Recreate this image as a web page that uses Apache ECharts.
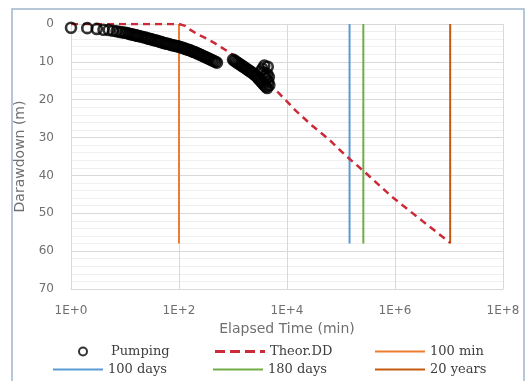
<!DOCTYPE html>
<html><head><meta charset="utf-8">
<script src="https://cdn.jsdelivr.net/npm/echarts@6/dist/echarts.min.js"></script>
<style>html,body{margin:0;padding:0;background:#fff}#c{width:526px;height:381px}</style>
</head><body><div id="c"></div>
<script>
// Pumping data: elapsed time (min) and drawdown (m)
const pumpT = [1,2,3,4,5,6,7,8,9,10,11,12,13,14,15,16,17,18,20,22,24,26,28,30,32,35,38,41,44,48,52,56,60,65,70,76,82,88,95,102,110,118,127,136,146,157,168,180,193,207,222,238,255,273,293,314,336,360,386,413,442,473,505,
  1000,1060,1120,1190,1260,1340,1420,1510,1600,1700,1800,1910,2030,2150,2280,2420,2570,2720,2880,3050,3230,3420,3620,3840,4070,4300,
  3300,3500,3700,3800,3900,4100,4300,4400,4500,4600,4700];
const pumpS = [1.0,1.1,1.3,1.5,1.6,1.8,1.9,2.1,2.2,2.3,2.4,2.6,2.7,2.8,2.9,3.0,3.1,3.2,3.3,3.5,3.6,3.8,3.9,4.0,4.1,4.3,4.4,4.5,4.7,4.8,5.0,5.1,5.2,5.3,5.5,5.6,5.7,5.8,5.9,6.0,6.2,6.3,6.5,6.6,6.8,6.9,7.1,7.3,7.4,7.6,7.8,8.0,8.2,8.4,8.6,8.8,9.0,9.2,9.4,9.6,9.8,10.0,10.2,
  9.4,9.65,9.9,10.15,10.4,10.65,10.9,11.15,11.4,11.65,11.9,12.15,12.4,12.65,12.9,13.2,13.5,13.8,14.2,14.6,15.0,15.4,15.8,16.2,16.6,16.9,
  12.5,11.8,12.8,11.0,13.6,14.5,13.2,11.3,15.2,14.0,16.2];
// Theoretical drawdown
const theoT = [1,100,130,160,220,320,450,630,900,1600,3200,7000,14800,29000,60000,123000,270000,870000,3200000,10500000];
const theoS = [0,0,0.5,1.5,2.7,3.8,5.0,6.3,7.7,10.5,14.3,18.2,23,26.8,30.5,34.8,39,45.6,52,57.8];
// Vertical marker lines: time (min), drawdown range
const markNames = ['100 min','100 days','180 days','20 years'];
const markT = [100, 144000, 259200, 10512000];
const markS = [0, 58];
const markColors = ['#ED7D31','#5B9BD5','#70AD47','#C55A11'];
const xTicks = ['1E+0','1E+2','1E+4','1E+6','1E+8'];

const pair = (a,b)=>a.map((v,i)=>[v,b[i]]);
const series = [
  {name:'Pumping', type:'scatter', data: pair(pumpT,pumpS), symbol:'circle', symbolSize:10,
   itemStyle:{color:'rgba(255,255,255,0)', borderColor:'#000', borderWidth:2.6}, z:5},
  {name:'Theor.DD', type:'line', data: pair(theoT,theoS), showSymbol:false, symbol:'none',
   lineStyle:{color:'#CC2A36', width:2.5, type:[7,5]}, itemStyle:{color:'#CC2A36'}, z:4}
];
markNames.forEach((n,i)=>{
  series.push({name:n, type:'line', data: markS.map(s=>[markT[i], s]), showSymbol:false, symbol:'none',
    lineStyle:{color:markColors[i], width:2}, itemStyle:{color:markColors[i]}, z:2});
});

const legFont = {fontFamily:'DejaVu Serif', fontSize:13, color:'#404040'};
function leg(name, left, top, w, h, icon, pad){
  return {data:[{name:name, icon:icon}], left:left, top:top, itemWidth:w, itemHeight:h, padding:0, itemGap:0,
    textStyle:Object.assign({padding:pad||0}, legFont), selectedMode:false};
}
const dashIcon = 'path://M0,0h10v3h-10z M15,0h10v3h-10z M30,0h10v3h-10z M45,0h5v3h-5z';

const chart = echarts.init(document.getElementById('c'), null, {renderer:'canvas'});
chart.setOption({
  animation:false,
  backgroundColor:'#fff',
  graphic:[{type:'rect', shape:{x:12, y:9, width:512, height:380},
    style:{fill:'none', stroke:'#9FB6CC', lineWidth:1.5}, silent:true}],
  grid:{left:71, right:23, top:24, bottom:92, containLabel:false},
  xAxis:{type:'log', logBase:10, min:1, max:1e8, interval:2,
    name:'Elapsed Time (min)', nameLocation:'middle', nameGap:32,
    nameTextStyle:{fontFamily:'DejaVu Sans', fontSize:14, color:'#6F6F6F'},
    axisLine:{onZero:false, lineStyle:{color:'#D9D9D9'}},
    axisTick:{show:false},
    axisLabel:{fontFamily:'DejaVu Sans', fontSize:12, color:'#6F6F6F', margin:16,
      formatter:(v)=>xTicks[Math.round(Math.log10(v)/2)]},
    splitLine:{show:true, lineStyle:{color:'#D9D9D9', width:1}},
    minorTick:{show:false}, minorSplitLine:{show:false}},
  yAxis:{type:'value', inverse:true, min:0, max:70, interval:10,
    name:'Darawdown (m)', nameLocation:'middle', nameGap:42,
    nameTextStyle:{fontFamily:'DejaVu Sans', fontSize:14, color:'#6F6F6F'},
    axisLine:{show:true, lineStyle:{color:'#D9D9D9'}},
    axisTick:{show:false},
    axisLabel:{fontFamily:'DejaVu Sans', fontSize:12, color:'#6F6F6F', margin:17},
    splitLine:{show:true, lineStyle:{color:'#D9D9D9', width:1}},
    minorTick:{show:false, splitNumber:5},
    minorSplitLine:{show:true, lineStyle:{color:'#EFEFEF', width:1}}},
  legend:[
    leg('Pumping', 78, 345, 8, 8, 'circle', [0,0,0,19]),
    leg('Theor.DD', 215, 345, 50, 3, dashIcon),
    leg('100 min', 375, 345, 50, 2, 'rect'),
    leg('100 days', 53, 363, 50, 2, 'rect'),
    leg('180 days', 213, 363, 50, 2, 'rect'),
    leg('20 years', 375, 363, 50, 2, 'rect')
  ],
  series:series
});
</script></body></html>
